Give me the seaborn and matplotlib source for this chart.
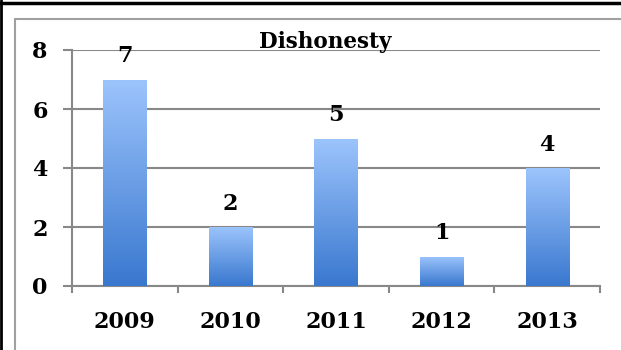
import numpy as np
import pandas as pd
import matplotlib
matplotlib.use("Agg")
import matplotlib.pyplot as plt
from matplotlib.colors import LinearSegmentedColormap
from matplotlib.lines import Line2D
import seaborn as sns

years = ["2009", "2010", "2011", "2012", "2013"]
counts = [7, 2, 5, 1, 4]
title = "Dishonesty"

df = pd.DataFrame({"year": years, "count": counts})

sns.set_style("white")
plt.rcParams["font.family"] = ["DejaVu Serif"]
plt.rcParams["font.weight"] = "bold"
plt.rcParams["text.color"] = "black"
plt.rcParams["xtick.color"] = "black"
plt.rcParams["ytick.color"] = "black"

fig = plt.figure(figsize=(6.21, 3.5), dpi=100)
ax = fig.add_axes([72 / 621, 1 - 286 / 350, 528 / 621, 236 / 350])

sns.barplot(data=df, x="year", y="count", color="#5b93e0", width=0.41, ax=ax,
            zorder=3)

# vertical gradient inside each bar
grad = LinearSegmentedColormap.from_list("bar", ["#3a78cf", "#9cc4fc"])
for p in ax.patches:
    x0, y0 = p.get_x(), p.get_y()
    w, h = p.get_width(), p.get_height()
    img = ax.imshow(np.linspace(0, 1, 100).reshape(-1, 1), cmap=grad,
                    origin="lower", extent=[x0, x0 + w, y0, y0 + h],
                    aspect="auto", zorder=4)
    img.set_clip_path(p)
    p.set_edgecolor("none")
    ax.text(x0 + w / 2, h + 0.58, str(int(h)), ha="center", va="baseline",
            fontsize=16, fontweight="bold", color="black", zorder=5)
ax.set_xlim(-0.5, 4.5)
ax.set_ylim(0, 8)

ax.set_yticks([0, 2, 4, 6, 8])
ax.yaxis.grid(True, color="#888888", linewidth=1.5, zorder=1)
ax.set_axisbelow(True)
for s in ["top", "right"]:
    ax.spines[s].set_visible(False)
for s in ["left", "bottom"]:
    ax.spines[s].set_color("#888888")
    ax.spines[s].set_linewidth(1.5)

ax.tick_params(axis="y", left=True, length=6.5, width=1.5, color="#888888",
               labelcolor="black", pad=11, labelsize=16)
ax.tick_params(axis="x", which="major", bottom=True, length=0, pad=18,
               labelcolor="black", labelsize=16)
ax.set_xticks(np.arange(-0.5, 5, 1), minor=True)
ax.tick_params(axis="x", which="minor", bottom=True, length=5, width=1.5,
               color="#888888", direction="out")
for t in ax.get_xticklabels() + ax.get_yticklabels():
    t.set_fontweight("bold")
ax.set_xlabel("")
ax.set_ylabel("")

fig.text(325 / 621, 1 - 48 / 350, title, ha="center", va="baseline",
         fontsize=15.5, fontweight="bold", color="black")

# frames around the chart
fig.add_artist(Line2D([14.5 / 621, 14.5 / 621], [0, 1 - 19 / 350],
                      transform=fig.transFigure, color="#a0a0a0", lw=1.5))
fig.add_artist(Line2D([14.5 / 621, 1], [1 - 19 / 350, 1 - 19 / 350],
                      transform=fig.transFigure, color="#a0a0a0", lw=1.5))
fig.add_artist(Line2D([0, 1], [1 - 2.5 / 350, 1 - 2.5 / 350],
                      transform=fig.transFigure, color="black", lw=2.5))
fig.add_artist(Line2D([1 / 621, 1 / 621], [0, 1],
                      transform=fig.transFigure, color="black", lw=2))

fig.savefig("out.png", dpi=100)
